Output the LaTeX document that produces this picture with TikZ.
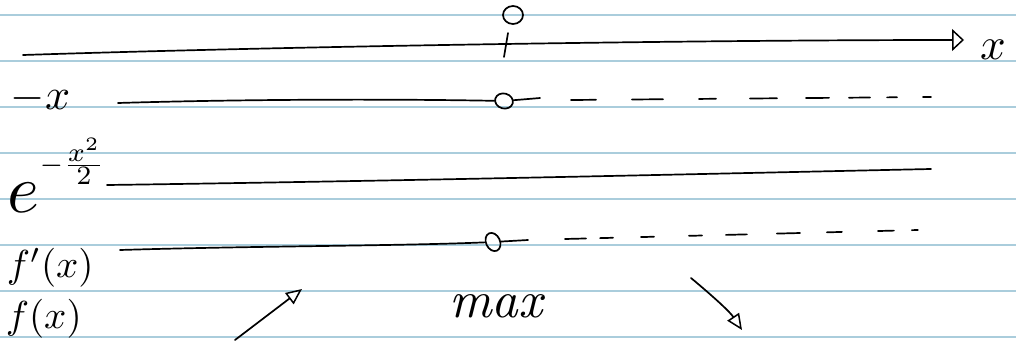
\documentclass[tikz,border=0pt]{standalone}
\usetikzlibrary{arrows.meta,shapes.geometric}
\definecolor{rulecol}{RGB}{170,205,220}
\begin{document}
\begin{tikzpicture}[x=1pt,y=-1pt,
  ink/.style={line width=1.7pt, line cap=round, line join=round, black},
  ruling/.style={line width=1.6pt, rulecol},
  lab/.style={inner sep=0pt, anchor=center},
  dot/.style={draw, ink, ellipse, inner sep=0pt},
  opentip/.style={-{Triangle[open,length=16pt,width=14pt,line width=1.5pt]}}]
\useasboundingbox (0,0) rectangle (1016,345);
\foreach \y in {15,61,107,153,199,245,291,337} \draw[ruling] (0,\y) -- (1016,\y);

% row 1: x axis
\node[dot, minimum width=20pt, minimum height=18pt] (o1) at (513,15) {};
\coordinate (ax0) at (23,55);
\coordinate (ax1) at (964,40);
\draw[ink, -{Triangle[open,length=12pt,width=22pt,line width=1.5pt]}] (ax0) .. controls (300,46) and (700,40) .. (ax1);
\coordinate (t0) at (508,33);
\coordinate (t1) at (504,57);
\draw[ink] (t0) -- (t1);
\node[lab, scale=4.5] (xl) at (993,50) {$x$};

% row 2: -x
\node[lab, anchor=west, scale=4.4] (mxl) at (10,98) {$-x$};
\coordinate (r2a) at (118,103);
\node[dot, minimum width=18pt, minimum height=15pt, rotate=-15] (o2) at (504,101) {};
\coordinate (r2b) at (540,98);
\coordinate (r2c) at (571,100);
\coordinate (r2d) at (931,97);
\draw[ink] (r2a) .. controls (250,99) and (400,99) .. (o2);
\draw[ink] (o2) -- (r2b);
\draw[ink, dash pattern=on 25pt off 36pt on 31pt off 36pt on 17pt off 34pt on 27pt off 29pt on 23pt off 20pt on 21pt off 17pt on 10pt off 26pt on 8pt off 50pt] (r2c) -- (r2d);

% row 3: e^{-x^2/2}
\node[lab, anchor=base west, scale=3.8] (el) at (7,212) {$\scalebox{1.8}{$e$}\raisebox{10.5pt}{$\scriptstyle -\frac{\scriptstyle x^2}{\scriptstyle 2}$}$};
\coordinate (r3a) at (107,185);
\coordinate (r3b) at (931,169);
\draw[ink] (r3a) .. controls (400,181) and (700,174) .. (r3b);

% row 4: f'(x)
\node[lab, anchor=west, scale=3.9] (fpl) at (6,268) {$f'(x)$};
\coordinate (r4a) at (120,250);
\node[dot, minimum width=14pt, minimum height=19pt, rotate=25] (o4) at (493,242) {};
\coordinate (r4b) at (528,240);
\coordinate (r4c) at (565,239);
\coordinate (r4d) at (918,230);
\draw[ink] (r4a) .. controls (250,246) and (400,246) .. (o4);
\draw[ink] (o4) -- (r4b);
\draw[ink, dash pattern=on 21pt off 14pt on 13pt off 28pt on 13pt off 35pt on 13pt off 24pt on 21pt off 30pt on 23pt off 27pt on 15pt off 36pt on 16pt off 18pt on 6pt off 50pt] (r4c) -- (r4d);

% row 5: f(x)
\node[lab, anchor=west, scale=3.9] (fl) at (5,319) {$f(x)$};
\coordinate (u0) at (235,340);
\coordinate (u1) at (302,289);
\draw[ink, opentip] (u0) -- (u1);
\node[lab, scale=5.2, font=\itshape] (maxl) at (496,306) {max};
\coordinate (d0) at (691,278);
\coordinate (d1) at (742,330);
\draw[ink, opentip] (d0) .. controls (715,298) and (730,312) .. (d1);
\end{tikzpicture}
\end{document}
